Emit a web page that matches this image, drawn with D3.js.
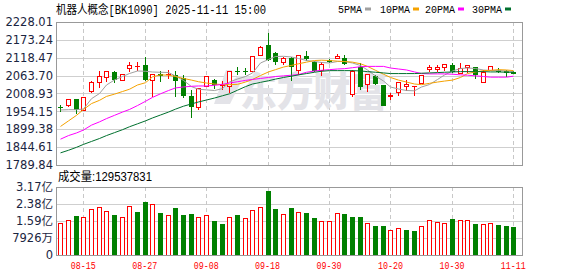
<!DOCTYPE html>
<html><head><meta charset="utf-8">
<script src="https://cdn.jsdelivr.net/npm/d3@7/dist/d3.min.js"></script>
<style>body{margin:0;background:#fff}svg{display:block}</style>
</head><body>
<svg id="chart" width="578" height="276"></svg>
<script>
const title = "机器人概念[BK1090] 2025-11-11 15:00";
const dates = ["2025-08-12","2025-08-13","2025-08-14","2025-08-15","2025-08-18","2025-08-19","2025-08-20","2025-08-21","2025-08-22","2025-08-25","2025-08-26","2025-08-27","2025-08-28","2025-08-29",
"2025-09-01","2025-09-02","2025-09-03","2025-09-04","2025-09-05","2025-09-08","2025-09-09","2025-09-10","2025-09-11","2025-09-12","2025-09-15","2025-09-16","2025-09-17","2025-09-18","2025-09-19","2025-09-22","2025-09-23","2025-09-24","2025-09-25","2025-09-26","2025-09-29","2025-09-30",
"2025-10-09","2025-10-10","2025-10-13","2025-10-14","2025-10-15","2025-10-16","2025-10-17","2025-10-20","2025-10-21","2025-10-22","2025-10-23","2025-10-24","2025-10-27","2025-10-28","2025-10-29","2025-10-30","2025-10-31",
"2025-11-03","2025-11-04","2025-11-05","2025-11-06","2025-11-07","2025-11-10","2025-11-11"];
const open  = [1966.6,1971.5,1992.1,1956.2,2014.4,2043.2,2058.6,2073.9,2049.4,2086.1,2091.0,2095.3,2049.4,2067.8,2066.5,2066.5,2056.4,2000.4,1966.6,2031.0,2051.2,2033.0,2031.0,2077.9,2077.5,2077.0,2126.0,2156.6,2133.0,2102.4,2117.7,2078.8,2123.8,2104.5,2078.8,2111.6,2115.6,2117.7,2005.3,2089.2,2035.9,2063.5,2034.1,1999.1,2012.6,2031.0,2028.8,2039.0,2081.9,2082.5,2089.2,2095.3,2069.6,2089.2,2089.2,2043.2,2078.8,2080.9,2078.8,2075.7];
const high  = [1972.8,1993.0,1993.0,1998.2,2048.2,2078.8,2078.8,2078.8,2068.7,2105.4,2105.4,2119.9,2069.6,2078.8,2080.0,2077.0,2066.5,2020.6,2025.8,2063.5,2053.4,2047.2,2077.0,2089.2,2087.1,2123.8,2153.6,2194.3,2136.1,2119.9,2119.9,2127.8,2138.2,2107.6,2104.5,2115.6,2130.0,2127.8,2080.0,2102.4,2069.6,2066.5,2035.9,2010.5,2043.2,2049.4,2031.9,2066.5,2095.3,2095.3,2099.3,2101.5,2103.3,2095.3,2090.1,2080.0,2094.1,2087.1,2080.0,2077.9];
const low   = [1951.3,1968.5,1946.1,1954.4,2009.5,2025.8,2043.2,2041.1,2048.2,2075.7,2077.0,2048.2,1998.2,2043.2,2054.3,1997.3,1995.1,1933.9,1959.3,2028.8,2023.6,2020.6,2010.5,2064.7,2064.7,2073.9,2122.9,2107.6,2095.3,2097.2,2046.3,2064.7,2109.4,2073.9,2063.5,2103.3,2113.7,2095.3,1998.2,2020.6,2013.5,2034.1,1969.7,1989.9,2002.2,2017.5,2002.2,2038.0,2073.9,2073.9,2077.0,2071.7,2069.6,2071.7,2054.3,2042.0,2077.0,2071.7,2060.4,2069.6];
const close = [1963.6,1989.9,1957.5,1997.3,2041.1,2061.6,2077.0,2051.2,2066.5,2095.3,2092.3,2051.2,2066.5,2063.5,2069.6,2048.2,2000.4,1966.6,2023.6,2061.6,2035.9,2034.5,2076.0,2074.8,2075.5,2122.9,2151.4,2110.7,2105.4,2117.7,2089.2,2126.0,2114.6,2077.0,2099.3,2106.4,2123.8,2099.3,2077.0,2028.8,2066.5,2038.0,1971.5,2003.4,2041.1,2035.9,2031.0,2064.7,2087.1,2089.0,2098.4,2073.9,2084.9,2095.3,2066.5,2074.8,2092.3,2073.9,2070.8,2069.8];
const prevClose = 1955.0;
const volumeYi = [1.476,1.616,1.818,1.756,2.144,2.222,2.036,1.865,1.756,2.269,2.005,2.471,2.362,1.958,1.849,2.191,1.865,1.911,1.756,1.849,1.585,1.445,1.756,1.865,1.725,2.082,2.222,2.984,2.144,1.865,2.176,1.989,1.943,1.741,1.585,1.585,1.943,1.911,1.756,1.756,1.476,1.352,1.352,1.150,1.243,1.166,1.119,1.337,1.616,1.523,1.476,1.678,1.616,1.616,1.445,1.430,1.476,1.399,1.352,1.29537831];
const ma5  = [1958.4,1959.3,1959.3,1961.4,1993.0,2008.9,2035.0,2050.3,2061.0,2070.2,2077.9,2077.0,2074.8,2073.9,2073.3,2062.5,2049.0,2030.0,2022.0,2020.0,2018.0,2024.0,2044.2,2053.4,2061.0,2071.7,2102.4,2113.1,2122.3,2122.9,2120.8,2116.2,2110.0,2107.0,2103.9,2102.4,2107.0,2107.0,2102.4,2094.7,2080.9,2062.5,2047.2,2028.8,2022.7,2018.1,2017.2,2028.8,2036.5,2051.8,2065.6,2077.9,2085.5,2087.1,2085.5,2080.9,2079.4,2079.4,2077.9,2076.3];
const ma10 = [1908,1925,1942,1960,1978,1988,2000,2007,2015,2022,2035,2042,2060,2066,2065,2061,2055,2050,2045,2041,2038,2036,2036,2037,2044,2052,2064,2075,2082,2090,2095,2100,2105,2110,2111,2110,2108,2107,2105,2100,2092,2080,2068,2058,2050,2044,2038,2036,2040,2044,2047,2050,2058,2070,2075,2079,2080,2082,2081,2079];
const ma20 = [1869,1880,1888,1897,1912,1922,1932,1942,1952,1960,1972,1985,1997,2008,2018,2026,2029,2031,2032,2032,2034,2037,2041,2045,2049,2052,2055,2058,2061,2063,2065,2067,2074,2078,2080,2082,2084,2085,2088,2091,2092,2092,2092,2087,2084,2081,2075,2070,2069,2069,2069,2068,2066,2065,2063,2061,2059,2059,2059,2062];
const ma30 = [1827,1835,1844,1853,1862,1871,1880,1889,1898,1907,1916,1925,1934,1943,1952,1961,1970,1977,1983,1989,1995,2002,2008,2019,2030,2038,2043,2048,2053,2058,2062,2066,2070,2074,2077,2079,2079,2079,2079,2078,2076,2074,2072,2070,2070,2070,2070,2071,2072,2073,2074,2075,2076,2076,2076,2076,2075,2075,2074,2074];
const priceTicks = [1789.84,1844.61,1899.38,1954.15,2008.93,2063.70,2118.47,2173.24,2228.01];
const volTicks = [0, 0.7926, 1.5852, 2.3778, 3.1704];
const volTickLabels = ["0","7926万","1.59亿","2.38亿","3.17亿"];
const dateTicks = ["2025-08-15","2025-08-27","2025-09-08","2025-09-18","2025-09-30","2025-10-20","2025-10-30","2025-11-11"];
const maNames = ["5PMA","10PMA","20PMA","30PMA"];
const volumeLabel = "成交量:129537831";

const maSeries = [ma5, ma10, ma20, ma30];
const maColors = ["#a0a0a0","#f5a200","#ff00ff","#00702e"];
const RED = "#ff0000", GREEN = "#008000";
const L = 56, R = 522, mTop = 22, mBot = 165, vTop = 187, vBot = 255;

const svg = d3.select("#chart");
const x = d3.scaleBand().domain(dates).range([56.4, 517.2]);
const cx = d => Math.round(x(d) + x.bandwidth()/2);
const y = d3.scaleLinear().domain([priceTicks[0], priceTicks[priceTicks.length-1]]).range([mBot, mTop]);
const yv = d3.scaleLinear().domain([0, volTicks[volTicks.length-1]]).range([vBot, vTop]);

// title & legend
svg.append("text").attr("x", 56).attr("y", 13.5)
  .attr("font-family", "'Liberation Mono','Noto Sans CJK SC'").attr("font-size", 12)
  .attr("textLength", 210).attr("lengthAdjust", "spacingAndGlyphs").attr("fill", "#000").text(title);
const legX = [338, 380, 425, 472];
maNames.forEach((n, i) => {
  svg.append("text").attr("x", legX[i]).attr("y", 12.5)
    .attr("font-family", "'Liberation Mono'").attr("font-size", 11)
    .attr("textLength", n.length*6).attr("lengthAdjust", "spacingAndGlyphs").attr("fill", "#000").text(n);
  svg.append("rect").attr("x", legX[i] + n.length*6 + 3).attr("y", 7.5).attr("width", 6).attr("height", 3)
    .attr("fill", maColors[i]);
});

// grid
const g = svg.append("g").attr("shape-rendering", "crispEdges");
priceTicks.slice(1, -1).forEach(t => {
  g.append("line").attr("x1", L).attr("x2", R).attr("y1", Math.round(y(t))+0.5).attr("y2", Math.round(y(t))+0.5)
   .attr("stroke", "#cfcfcf");
});
volTicks.slice(1, -1).forEach(t => {
  g.append("line").attr("x1", L).attr("x2", R).attr("y1", Math.round(yv(t))+0.5).attr("y2", Math.round(yv(t))+0.5)
   .attr("stroke", "#cfcfcf");
});
dateTicks.forEach(d => {
  [[mTop, mBot], [vTop, vBot]].forEach(([a, b]) => {
    g.append("line").attr("x1", cx(d)+0.5).attr("x2", cx(d)+0.5).attr("y1", a).attr("y2", b)
      .attr("stroke", "#c8c8c8").attr("stroke-dasharray", "4,3");
  });
});

// watermark
svg.append("text").attr("x", 240).attr("y", 106).attr("font-family", "'Noto Sans CJK SC'")
  .attr("font-weight", 900).attr("font-size", 40).attr("fill", "#e3e3e8")
  .attr("textLength", 147).attr("lengthAdjust", "spacingAndGlyphs").text("东方财富");
svg.append("path").attr("d", "M214,104 L226,70 L232,70 L228,84 L238,76 L244,76 L230,104 Z").attr("fill", "#e3e3e8");

// candles
const cg = svg.append("g").attr("shape-rendering", "crispEdges");
dates.forEach((d, i) => {
  const c = cx(d);
  const up = close[i] >= open[i];
  const col = up ? RED : GREEN;
  const yt = y(Math.max(open[i], close[i])), yb = y(Math.min(open[i], close[i]));
  const yh = y(high[i]), yl = y(low[i]);
  if (yb - yt < 1.5) {
    cg.append("line").attr("x1", c+0.5).attr("x2", c+0.5).attr("y1", yh).attr("y2", yl).attr("stroke", col);
    cg.append("rect").attr("x", c-2).attr("y", yt).attr("width", 5).attr("height", Math.max(1, yb-yt)).attr("fill", col);
  } else if (up) {
    cg.append("line").attr("x1", c+0.5).attr("x2", c+0.5).attr("y1", yh).attr("y2", yt).attr("stroke", col);
    cg.append("line").attr("x1", c+0.5).attr("x2", c+0.5).attr("y1", yb).attr("y2", yl).attr("stroke", col);
    cg.append("rect").attr("x", c-1.5).attr("y", yt).attr("width", 4).attr("height", yb-yt)
      .attr("fill", "#fff").attr("stroke", col);
  } else {
    cg.append("line").attr("x1", c+0.5).attr("x2", c+0.5).attr("y1", yh).attr("y2", yl).attr("stroke", col);
    cg.append("rect").attr("x", c-2).attr("y", yt).attr("width", 5).attr("height", yb-yt).attr("fill", col);
  }
});

// moving averages
maSeries.forEach((s, k) => {
  svg.append("path").datum(s)
    .attr("d", d3.line().x((v, i) => cx(dates[i]) + 0.5).y(v => y(v)))
    .attr("fill", "none").attr("stroke", maColors[k]).attr("stroke-width", 1);
});

// volume bars
const vg = svg.append("g").attr("shape-rendering", "crispEdges");
dates.forEach((d, i) => {
  const c = cx(d);
  const pc = i === 0 ? prevClose : close[i-1];
  const up = close[i] >= pc;
  const top = yv(volumeYi[i]);
  if (up) {
    vg.append("rect").attr("x", c-1.5).attr("y", top).attr("width", 4).attr("height", vBot - top)
      .attr("fill", "#fff").attr("stroke", RED);
  } else {
    vg.append("rect").attr("x", c-2).attr("y", top).attr("width", 5).attr("height", vBot - top).attr("fill", GREEN);
  }
});

// frames
[[mTop, mBot], [vTop, vBot]].forEach(([a, b]) => {
  svg.append("rect").attr("x", L+0.5).attr("y", a+0.5).attr("width", R-L).attr("height", b-a)
    .attr("fill", "none").attr("stroke", "#999").attr("stroke-width", 1.2).attr("shape-rendering", "crispEdges");
});

// axes
const axFont = "'DejaVu Sans','Noto Sans CJK SC'";
const ay = svg.append("g").attr("transform", `translate(${L},0)`)
  .call(d3.axisLeft(y).tickValues(priceTicks).tickSize(0).tickPadding(3).tickFormat(d3.format(".2f")));
ay.select(".domain").remove();
ay.selectAll("text").attr("font-family", axFont).attr("font-size", 11.5).attr("fill", "#1b2541");

const av = svg.append("g").attr("transform", `translate(${L},0)`)
  .call(d3.axisLeft(yv).tickValues(volTicks).tickSize(0).tickPadding(3).tickFormat((v, i) => volTickLabels[i]));
av.select(".domain").remove();
av.selectAll("text").attr("font-family", axFont).attr("font-size", 11.5).attr("fill", "#1b2541");

const ax = svg.append("g").attr("transform", `translate(0,${vBot})`)
  .call(d3.axisBottom(x).tickValues(dateTicks).tickSize(0).tickPadding(6).tickFormat(d => d.slice(5)));
ax.select(".domain").remove();
ax.selectAll("text").attr("font-family", "'Liberation Mono'").attr("font-size", 11.5).attr("fill", RED)
  .attr("textLength", 25).attr("lengthAdjust", "spacingAndGlyphs");

svg.append("text").attr("x", 58).attr("y", 181).attr("font-family", "'Liberation Sans','Noto Sans CJK SC'")
  .attr("font-size", 12).attr("textLength", 94).attr("lengthAdjust", "spacingAndGlyphs").attr("fill", "#000")
  .text(volumeLabel);
</script>
</body></html>
